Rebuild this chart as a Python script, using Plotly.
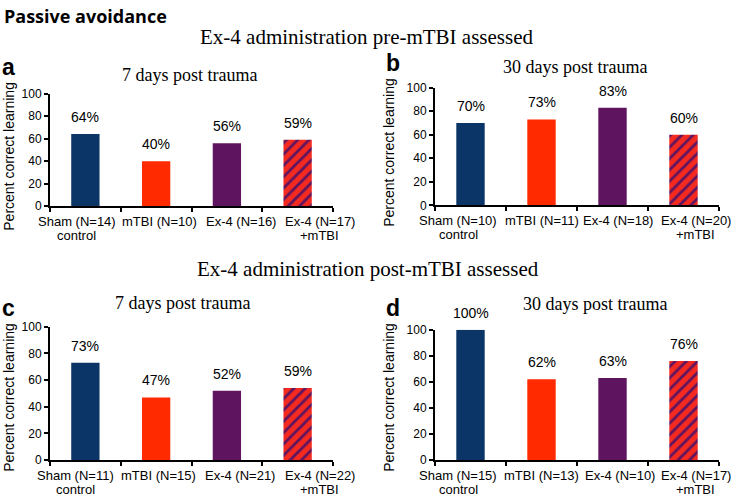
import plotly.graph_objects as go

W, H = 734, 503

groups_a = ["Sham (N=14)", "mTBI (N=10)", "Ex-4 (N=16)", "Ex-4 (N=17)"]
groups_b = ["Sham (N=10)", "mTBI (N=11)", "Ex-4 (N=18)", "Ex-4 (N=20)"]
groups_c = ["Sham (N=11)", "mTBI (N=15)", "Ex-4 (N=21)", "Ex-4 (N=22)"]
groups_d = ["Sham (N=15)", "mTBI (N=13)", "Ex-4 (N=10)", "Ex-4 (N=17)"]
sublines = ["control", "", "", "+mTBI"]

values_a = [64, 40, 56, 59]
values_b = [70, 73, 83, 60]
values_c = [73, 47, 52, 54]
values_d = [100, 62, 63, 76]

labels_a = ["64%", "40%", "56%", "59%"]
labels_b = ["70%", "73%", "83%", "60%"]
labels_c = ["73%", "47%", "52%", "59%"]
labels_d = ["100%", "62%", "63%", "76%"]

y_ticks = [0, 20, 40, 60, 80, 100]

NAVY = "#0b3566"
RED = "#ff2a00"
PURPLE = "#5f1460"
solid_colors = [NAVY, RED, PURPLE]
HATCH_BG = "#f42a20"

SANS = "Liberation Sans, Arial, sans-serif"
SERIF = "Liberation Serif, Times New Roman, serif"


def px_x(x):
    return x / W


def px_y(y):
    return 1 - y / H


panels = [
    dict(groups=groups_a, values=values_a, labels=labels_a, xd=(50, 333), yd=(89, 205),
         off=[-0.12, 0.05, 0.2, 0.31], letter="a", lpos=(0, 62), sub="7 days post trauma",
         spos=(189, 70), ypos=(9, 154)),
    dict(groups=groups_b, values=values_b, labels=labels_b, xd=(435, 719), yd=(83, 204),
         off=[-0.17, 0.0, 0.08, 0.17], letter="b", lpos=(384, 58), sub="30 days post trauma",
         spos=(575, 62), ypos=(389, 150)),
    dict(groups=groups_c, values=values_c, labels=labels_c, xd=(50, 333), yd=(329, 466),
         off=[-0.14, 0.03, 0.19, 0.31], letter="c", lpos=(0, 310), sub="7 days post trauma",
         spos=(182, 304), ypos=(9, 402)),
    dict(groups=groups_d, values=values_d, labels=labels_d, xd=(435, 719), yd=(332, 466),
         off=[-0.17, 0.0, 0.1, 0.17], letter="d", lpos=(384, 310), sub="30 days post trauma",
         spos=(595, 306), ypos=(389, 402)),
]

fig = go.Figure()
annotations = []
layout = {}

for k, p in enumerate(panels, start=1):
    xa = "x" if k == 1 else f"x{k}"
    ya = "y" if k == 1 else f"y{k}"
    cats = list(range(len(p["values"])))
    fig.add_trace(go.Bar(
        x=cats[:3], y=p["values"][:3], xaxis=xa, yaxis=ya, width=0.4,
        marker=dict(color=solid_colors, line=dict(width=0)),
        showlegend=False, hoverinfo="skip",
    ))
    fig.add_trace(go.Bar(
        x=cats[3:], y=p["values"][3:], xaxis=xa, yaxis=ya, width=0.4,
        marker=dict(color=HATCH_BG, line=dict(width=0),
                    pattern=dict(shape="/", fgcolor=PURPLE, bgcolor=HATCH_BG, fgopacity=1,
                                 size=8, solidity=0.35, fillmode="replace")),
        showlegend=False, hoverinfo="skip",
    ))
    layout[("xaxis" if k == 1 else f"xaxis{k}")] = dict(
        domain=[px_x(p["xd"][0]), px_x(p["xd"][1])], anchor=ya,
        range=[-0.5, 3.5], showgrid=False, zeroline=False,
        showline=True, linecolor="black", linewidth=2,
        tickmode="array", tickvals=[-0.5, 0.5, 1.5, 2.5, 3.5], ticktext=["", "", "", "", ""],
        ticks="outside", ticklen=4, tickwidth=1.5, tickcolor="black", fixedrange=True,
    )
    layout[("yaxis" if k == 1 else f"yaxis{k}")] = dict(
        domain=[px_y(p["yd"][1]), px_y(p["yd"][0])], anchor=xa,
        range=[0, 100], tickmode="array", tickvals=y_ticks,
        showgrid=False, zeroline=False, showline=True, linecolor="black", linewidth=2,
        ticks="outside", ticklen=4, tickwidth=1.5, tickcolor="black",
        tickfont=dict(family=SANS, size=12, color="black"), fixedrange=True,
    )
    for i, (v, t) in enumerate(zip(p["values"], p["labels"])):
        annotations.append(dict(x=i, y=v, xref=xa, yref=ya, text=t, showarrow=False,
                                yanchor="bottom", yshift=7,
                                font=dict(family=SANS, size=14, color="black")))
    for i, g in enumerate(p["groups"]):
        annotations.append(dict(x=i + p["off"][i], y=0, xref=xa, yref=ya, text=g,
                                showarrow=False, yanchor="top", yshift=-6,
                                font=dict(family=SANS, size=13, color="black")))
        if sublines[i]:
            annotations.append(dict(x=i + p["off"][i], y=0, xref=xa, yref=ya, text=sublines[i],
                                    showarrow=False, yanchor="top", yshift=-20,
                                    font=dict(family=SANS, size=13, color="black")))
    annotations.append(dict(x=px_x(p["lpos"][0]), y=px_y(p["lpos"][1]), xref="paper", yref="paper",
                            text=f"<b>{p['letter']}</b>", showarrow=False, xanchor="left",
                            yanchor="middle", font=dict(family=SANS, size=23, color="black")))
    annotations.append(dict(x=px_x(p["spos"][0]), y=px_y(p["spos"][1]), xref="paper", yref="paper",
                            text=p["sub"], showarrow=False, xanchor="center", yanchor="middle",
                            font=dict(family=SERIF, size=18, color="black")))
    annotations.append(dict(x=px_x(p["ypos"][0]), y=px_y(p["ypos"][1]), xref="paper", yref="paper",
                            text="Percent correct learning", showarrow=False, textangle=-90,
                            xanchor="center", yanchor="middle",
                            font=dict(family=SANS, size=14, color="black")))

annotations.append(dict(x=px_x(2), y=px_y(9), xref="paper", yref="paper",
                        text="<b>Passive avoidance</b>", showarrow=False, xanchor="left",
                        yanchor="middle", font=dict(family="Open Sans, sans-serif", size=18, color="black")))
annotations.append(dict(x=px_x(367), y=px_y(31), xref="paper", yref="paper",
                        text="Ex-4 administration pre-mTBI assessed", showarrow=False,
                        xanchor="center", yanchor="middle",
                        font=dict(family=SERIF, size=21, color="black")))
annotations.append(dict(x=px_x(368), y=px_y(270), xref="paper", yref="paper",
                        text="Ex-4 administration post-mTBI assessed", showarrow=False,
                        xanchor="center", yanchor="middle",
                        font=dict(family=SERIF, size=21, color="black")))

fig.update_layout(
    width=W, height=H, margin=dict(l=0, r=0, t=0, b=0),
    paper_bgcolor="white", plot_bgcolor="white", barmode="overlay",
    annotations=annotations, bargap=0.6, **layout,
)

fig.write_html("out.html", config=dict(displayModeBar=False),
               post_script="document.body.style.margin='0px';document.body.style.overflow='hidden';")
